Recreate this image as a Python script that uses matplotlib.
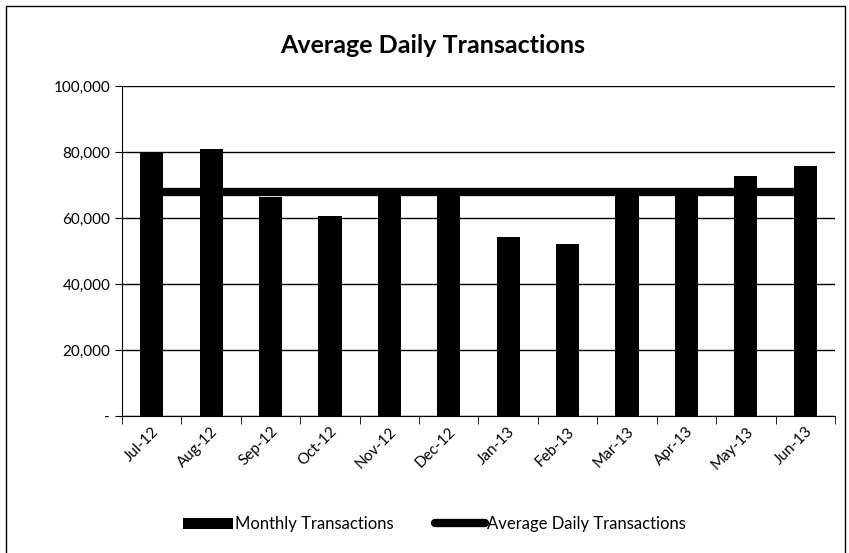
import matplotlib.pyplot as plt
from matplotlib.patches import Rectangle
from matplotlib.ticker import FuncFormatter, FixedLocator

plt.rcParams['font.family'] = ['Lato', 'DejaVu Sans']

# Datos
months = ["Jul-12", "Aug-12", "Sep-12", "Oct-12", "Nov-12", "Dec-12",
          "Jan-13", "Feb-13", "Mar-13", "Apr-13", "May-13", "Jun-13"]
monthly = [80000, 81000, 66500, 60700, 68000, 67500,
           54300, 52100, 67500, 67500, 72700, 75800]
average = [67800] * 12

fig = plt.figure(figsize=(8.49, 5.53), dpi=100)
ax = fig.add_axes([0.1437, 0.2477, 0.8398, 0.5968])

x = list(range(len(months)))
bars = ax.bar(x, monthly, width=0.39, color="black", label="Monthly Transactions", zorder=2)
line, = ax.plot(x, average, color="black", lw=6, solid_capstyle="round",
                label="Average Daily Transactions", zorder=3)

ax.set_xlim(-0.5, len(months) - 0.5)
ax.set_ylim(0, 100000)
ax.set_yticks(range(0, 100001, 20000))
ax.yaxis.set_major_formatter(FuncFormatter(lambda v, p: "-" if v == 0 else f"{int(v):,}"))
ax.grid(axis="y", color="black", lw=1, zorder=0)

# etiquetas en el centro, marcas entre categorias
ax.set_xticks(x)
ax.set_xticklabels(months, rotation=45, ha="right", rotation_mode="anchor")
ax.tick_params(axis="x", which="major", length=0, pad=6, labelsize=11)
ax.xaxis.set_minor_locator(FixedLocator([i - 0.5 for i in range(len(months) + 1)]))
ax.tick_params(axis="x", which="minor", length=6, direction="out", color="black")
ax.tick_params(axis="y", length=5, direction="out", labelsize=11)

for s in ["top", "right"]:
    ax.spines[s].set_visible(False)
ax.spines["left"].set_color("black")
ax.spines["bottom"].set_color("black")

fig.text(0.51, 0.918, "Average Daily Transactions", ha="center", va="center",
         fontsize=18, fontweight="bold")

fig.legend(handles=[bars, line], loc="center", bbox_to_anchor=(0.512, 0.052), ncol=2,
           frameon=False, fontsize=12, handlelength=3, columnspacing=2.5,
           handletextpad=0.1)

fig.add_artist(Rectangle((0.007, -0.01), 0.988, 1.0, transform=fig.transFigure,
                         fill=False, edgecolor="black", lw=1))

fig.savefig("out.png", dpi=100)
